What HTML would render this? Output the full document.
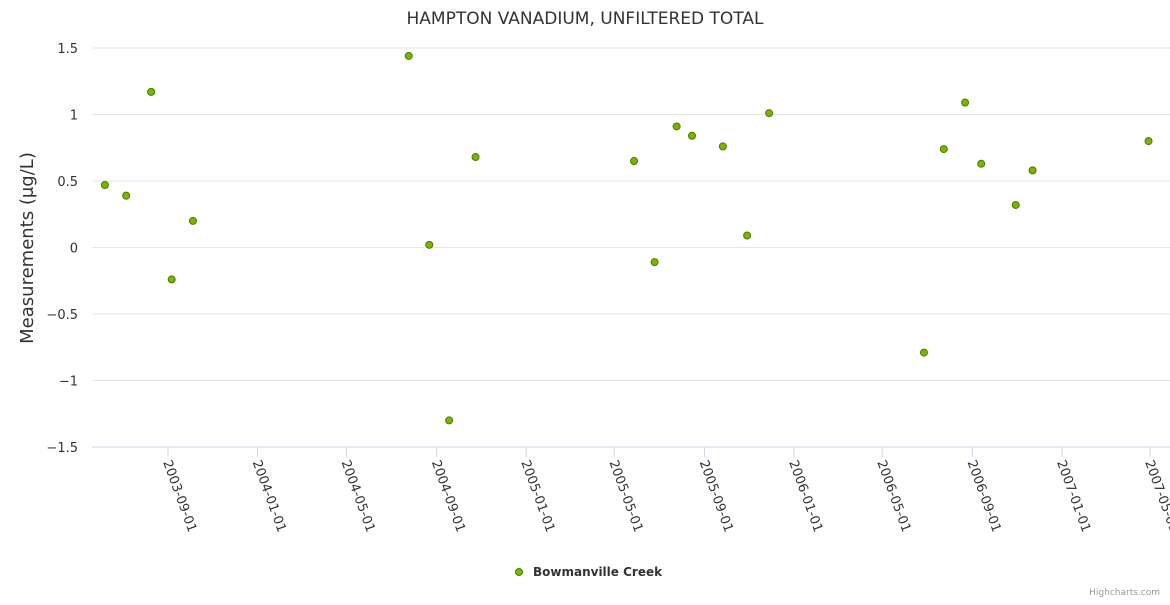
<!DOCTYPE html>
<html><head><meta charset="utf-8"><style>
body{margin:0;background:#fff;font-family:"Liberation Sans","DejaVu Sans",sans-serif}
</style></head><body>
<svg width="1170" height="600" xmlns="http://www.w3.org/2000/svg" font-family="'DejaVu Sans','Liberation Sans',sans-serif">
<text x="585" y="24" text-anchor="middle" font-size="17" fill="#333">HAMPTON VANADIUM, UNFILTERED TOTAL</text>
<text transform="translate(33,248) rotate(-90)" text-anchor="middle" font-size="18" fill="#333">Measurements (μg/L)</text>
<g id="grid"></g><g id="xaxis"></g><g id="pts"></g>
<g>
<circle cx="519" cy="572" r="3.5" fill="#7cb500" stroke="#4a7a00" stroke-width="1"/>
<text x="533" y="576" font-size="12" font-weight="bold" fill="#333">Bowmanville Creek</text></g>
<text x="1160" y="595" text-anchor="end" font-size="9" fill="#999">Highcharts.com</text>
</svg>
<script>
const yTicks=[1.5,1,0.5,0,-0.5,-1,-1.5];
const yTickLabels=["1.5","1","0.5","0","−0.5","−1","−1.5"];
const xTicks=["2003-09-01","2004-01-01","2004-05-01","2004-09-01","2005-01-01","2005-05-01","2005-09-01","2006-01-01","2006-05-01","2006-09-01","2007-01-01","2007-05-01"];
const dates=["2003-06-07","2003-07-06","2003-08-09","2003-09-06","2003-10-05","2004-07-25","2004-08-22","2004-09-18","2004-10-24","2005-05-28","2005-06-25","2005-07-25","2005-08-15","2005-09-26","2005-10-29","2005-11-28","2006-06-27","2006-07-24","2006-08-22","2006-09-13","2006-10-30","2006-11-22","2007-04-29"];
const values=[0.47,0.39,1.17,-0.24,0.20,1.44,0.02,-1.30,0.68,0.65,-0.11,0.91,0.84,0.76,0.09,1.01,-0.79,0.74,1.09,0.63,0.32,0.58,0.80];
const NS="http://www.w3.org/2000/svg";
const t0=Date.parse("2003-09-01"),t1=Date.parse("2007-05-01");
const xs=d=>168+(Date.parse(d)-t0)/(t1-t0)*(1150-168);
const ys=v=>247.5-v*133;
function mk(tag,at,parent){const e=document.createElementNS(NS,tag);for(const k in at)e.setAttribute(k,at[k]);document.getElementById(parent).appendChild(e);return e;}
yTicks.forEach((v,i)=>{
 const l=mk("line",{x1:92,x2:1170,y1:ys(v),y2:ys(v),stroke:i==6?"#ccd6eb":"#e6e6e6","stroke-width":1},"grid");
 
 
 const t=mk("text",{x:78,y:ys(v)+5,"text-anchor":"end","font-size":13,fill:"#333"},"grid");t.textContent=yTickLabels[i];
 
 
});
xTicks.forEach(d=>{
 const x=xs(d);
 const l=mk("line",{x1:x,x2:x,y1:447,y2:457,stroke:"#ccd6eb"},"xaxis");
 
 
 const t=mk("text",{x:0,y:0,"font-size":13,fill:"#333",transform:`translate(${x-5},${462}) rotate(70)`},"xaxis");t.textContent=d;
 
 
});
dates.forEach((d,i)=>{
 const c=mk("circle",{cx:xs(d),cy:ys(values[i]),r:3.5,fill:"#7cb500",stroke:"#4a7a00","stroke-width":1},"pts");
 
 
});
</script>
</body></html>
